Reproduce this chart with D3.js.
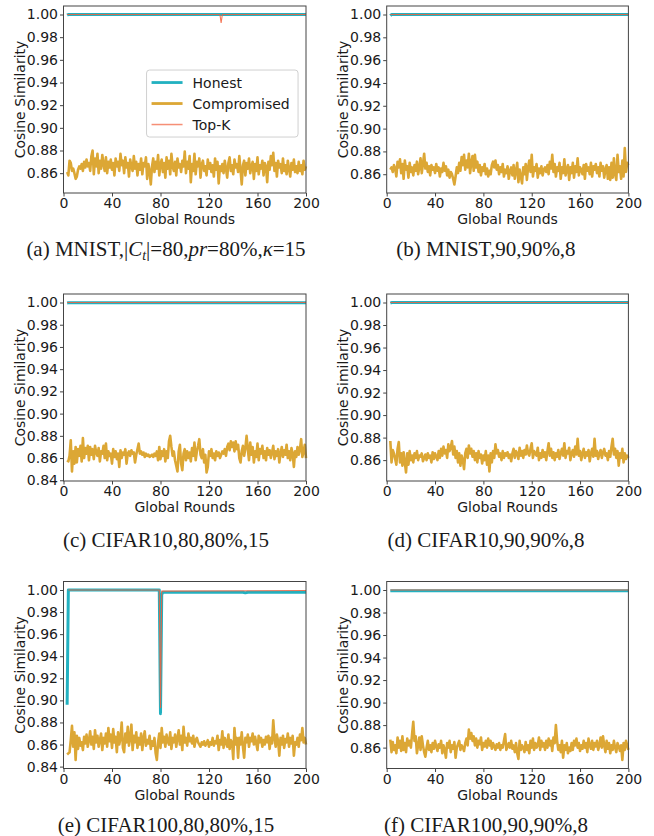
<!DOCTYPE html>
<html>
<head>
<meta charset="utf-8">
<script src="https://cdn.jsdelivr.net/npm/d3@7"></script>
<style>
body{margin:0;background:#fff}
svg{display:block}
.tick text{font-family:"DejaVu Sans";font-size:14px;fill:#1a1a1a}
.tick line, .domain{stroke:#444}
</style>
</head>
<body>
<svg id="chart" width="654" height="836"></svg>
<script>
// rounds 3..200
var rounds = d3.range(3, 201)
var xTicks = [0, 40, 80, 120, 160, 200]
var seriesNames = ['Honest', 'Compromised', 'Top-K']
var colors = {Honest: '#22b1c0', Compromised: '#dca735', 'Top-K': '#f2603c'}

// compromised cosine similarity, one value per round
var compA = [
  .861,.858,.871,.869,.862,.864,.860,.855,.857,.863,
  .866,.864,.868,.862,.870,.865,.872,.866,.869,.862,
  .875,.880,.859,.873,.866,.877,.860,.871,.864,.876,
  .868,.862,.874,.860,.870,.865,.872,.863,.869,.858,
  .873,.866,.870,.862,.877,.867,.871,.860,.874,.865,
  .869,.857,.872,.866,.862,.875,.864,.870,.858,.868,
  .863,.873,.859,.869,.866,.874,.855,.868,.862,.850,
  .866,.873,.861,.870,.864,.876,.858,.868,.872,.861,
  .869,.856,.874,.864,.871,.859,.877,.866,.862,.870,
  .858,.873,.865,.868,.861,.871,.866,.879,.860,.870,
  .864,.875,.852,.868,.862,.877,.859,.870,.866,.873,
  .856,.868,.871,.862,.866,.858,.872,.864,.869,.861,
  .867,.857,.873,.863,.870,.851,.866,.862,.868,.860,
  .871,.864,.856,.869,.874,.862,.867,.859,.872,.865,
  .868,.861,.875,.863,.850,.867,.871,.858,.869,.864,
  .873,.860,.866,.870,.855,.868,.862,.874,.859,.867,
  .864,.871,.858,.869,.866,.852,.870,.863,.875,.867,
  .878,.862,.869,.857,.871,.865,.868,.860,.873,.862,
  .867,.859,.871,.864,.857,.869,.863,.872,.861,.866,
  .860,.870,.862,.867,.859,.871,.863,.866]
var compB = [
  .864,.866,.862,.868,.865,.858,.871,.866,.873,.861,
  .869,.856,.872,.864,.867,.857,.870,.862,.866,.859,
  .868,.863,.871,.860,.866,.874,.861,.869,.878,.865,
  .870,.862,.867,.859,.868,.864,.866,.861,.869,.863,
  .866,.858,.865,.862,.870,.863,.867,.859,.864,.857,
  .862,.860,.856,.851,.858,.866,.861,.870,.863,.875,
  .868,.877,.864,.872,.866,.878,.861,.870,.876,.863,
  .877,.866,.871,.862,.868,.859,.866,.863,.869,.860,
  .865,.858,.863,.860,.868,.871,.866,.872,.864,.868,
  .860,.866,.862,.869,.858,.864,.861,.867,.856,.863,
  .866,.859,.868,.856,.863,.870,.853,.864,.858,.852,
  .866,.860,.869,.855,.866,.872,.862,.877,.858,.866,
  .863,.869,.857,.865,.861,.867,.859,.864,.866,.862,
  .868,.860,.871,.865,.877,.862,.869,.858,.866,.863,
  .870,.856,.866,.861,.873,.859,.864,.868,.855,.866,
  .861,.870,.857,.867,.862,.874,.859,.866,.864,.860,
  .868,.856,.869,.863,.866,.860,.870,.858,.867,.864,
  .869,.861,.866,.858,.870,.863,.867,.857,.864,.868,
  .856,.866,.855,.870,.857,.874,.860,.855,.877,.862,
  .867,.856,.872,.858,.883,.862,.870,.868]
var compC = [
  .858,.857,.862,.876,.848,.866,.855,.870,.856,.868,
  .862,.871,.857,.878,.860,.869,.864,.871,.858,.870,
  .863,.868,.859,.871,.865,.862,.869,.857,.866,.864,
  .871,.860,.873,.858,.866,.862,.864,.855,.868,.861,
  .866,.859,.864,.852,.867,.860,.865,.863,.868,.855,
  .864,.866,.862,.867,.864,.865,.856,.863,.868,.873,
  .864,.866,.863,.865,.861,.864,.862,.863,.861,.862,
  .863,.861,.864,.862,.866,.858,.870,.859,.866,.862,
  .868,.857,.866,.860,.875,.880,.870,.862,.866,.858,
  .853,.848,.866,.872,.855,.849,.864,.868,.858,.866,
  .860,.865,.857,.869,.862,.874,.858,.866,.871,.877,
  .863,.860,.868,.856,.863,.847,.852,.866,.862,.868,
  .860,.864,.858,.866,.862,.865,.860,.863,.866,.864,
  .868,.862,.870,.873,.867,.875,.870,.874,.866,.875,
  .868,.872,.860,.856,.866,.871,.862,.869,.880,.868,
  .858,.874,.863,.870,.856,.866,.861,.873,.858,.868,
  .864,.871,.860,.866,.858,.869,.863,.867,.860,.865,
  .871,.859,.866,.862,.868,.856,.864,.870,.861,.867,
  .863,.872,.860,.866,.858,.869,.864,.852,.866,.861,
  .870,.863,.868,.877,.861,.866,.872,.860]
var compD = [
  .877,.858,.869,.866,.861,.856,.870,.876,.858,.866,
  .855,.867,.858,.849,.866,.856,.868,.860,.864,.858,
  .866,.862,.868,.860,.864,.863,.866,.859,.862,.865,
  .860,.866,.862,.864,.858,.867,.861,.866,.863,.860,
  .868,.862,.870,.864,.872,.866,.869,.862,.874,.868,
  .871,.877,.865,.872,.862,.868,.858,.866,.855,.864,
  .860,.852,.866,.870,.862,.873,.866,.870,.863,.868,
  .860,.866,.858,.868,.862,.865,.857,.864,.860,.868,
  .856,.864,.850,.866,.858,.868,.862,.874,.866,.869,
  .863,.866,.860,.868,.862,.866,.864,.867,.862,.865,
  .859,.866,.870,.862,.868,.866,.861,.871,.864,.868,
  .862,.869,.865,.873,.866,.864,.870,.875,.862,.868,
  .866,.864,.871,.860,.866,.862,.869,.863,.867,.860,
  .868,.875,.864,.870,.862,.867,.860,.866,.863,.869,
  .861,.866,.870,.864,.875,.862,.868,.866,.871,.860,
  .866,.869,.863,.872,.865,.879,.864,.868,.860,.866,
  .870,.862,.867,.864,.869,.859,.866,.870,.863,.879,
  .864,.868,.861,.866,.869,.862,.867,.870,.864,.866,
  .860,.868,.863,.872,.879,.865,.870,.862,.868,.855,
  .866,.862,.870,.858,.866,.861,.864,.862]
var compE = [
  .851,.852,.853,.864,.877,.858,.871,.846,.868,.856,
  .866,.859,.862,.855,.867,.861,.869,.858,.864,.872,
  .860,.867,.856,.873,.862,.868,.858,.864,.870,.855,
  .866,.861,.870,.858,.875,.863,.869,.857,.874,.862,
  .867,.853,.871,.860,.866,.880,.857,.853,.870,.862,
  .876,.859,.866,.878,.855,.868,.862,.871,.857,.866,
  .860,.870,.855,.866,.872,.859,.864,.861,.868,.856,
  .863,.859,.866,.852,.846,.862,.870,.857,.875,.862,
  .867,.858,.869,.863,.860,.871,.856,.866,.862,.869,
  .858,.866,.873,.860,.868,.855,.876,.862,.866,.859,
  .870,.863,.866,.861,.868,.858,.864,.866,.862,.860,
  .858,.862,.860,.863,.859,.861,.864,.858,.862,.860,
  .866,.859,.863,.861,.868,.855,.864,.860,.872,.857,
  .866,.862,.858,.869,.856,.864,.862,.847,.875,.860,
  .866,.848,.866,.860,.871,.858,.848,.866,.862,.869,
  .858,.866,.863,.870,.860,.867,.861,.855,.868,.862,
  .866,.858,.864,.860,.867,.862,.868,.856,.866,.861,
  .882,.866,.858,.869,.863,.850,.866,.860,.868,.857,
  .865,.862,.870,.858,.866,.861,.868,.850,.862,.860,
  .866,.858,.869,.864,.875,.862,.866,.860]
var compF = [
  .867,.856,.865,.858,.862,.855,.869,.860,.866,.857,
  .870,.858,.864,.856,.868,.862,.866,.860,.872,.883,
  .866,.870,.855,.862,.869,.858,.870,.862,.856,.852,
  .860,.866,.858,.862,.856,.864,.859,.866,.861,.857,
  .863,.860,.866,.855,.862,.858,.851,.864,.860,.866,
  .856,.862,.859,.865,.851,.860,.863,.866,.858,.862,
  .860,.857,.864,.868,.862,.876,.868,.873,.866,.870,
  .862,.868,.860,.866,.863,.869,.858,.864,.861,.866,
  .860,.868,.862,.866,.859,.864,.861,.858,.863,.860,
  .864,.858,.862,.860,.866,.872,.858,.861,.864,.860,
  .866,.859,.862,.856,.864,.855,.850,.866,.858,.862,
  .860,.856,.865,.858,.862,.855,.866,.860,.868,.858,
  .864,.860,.862,.869,.858,.866,.861,.864,.858,.866,
  .860,.868,.862,.866,.857,.869,.864,.880,.866,.858,
  .862,.856,.866,.851,.862,.858,.864,.855,.860,.857,
  .864,.858,.866,.862,.868,.860,.864,.857,.862,.859,
  .866,.860,.864,.856,.868,.862,.859,.866,.858,.864,
  .861,.866,.858,.862,.869,.860,.870,.862,.856,.866,
  .859,.864,.855,.862,.858,.866,.860,.856,.864,.861,
  .857,.862,.849,.864,.858,.866,.862,.858]

// honest / top-k: [round, value] where the value changes
var honestA = [[3, .9994], [4, 1], [200, 1]]
var topkA = [[3, 1], [129, 1], [130, .9926], [131, 1], [200, 1]]
var honestB = [[3, .9990], [4, 1], [200, 1]]
var topkB = [[3, 1], [200, 1]]
var honestC = [[3, .9996], [4, .9998], [200, .9998]]
var topkC = [[3, 1], [200, 1]]
var honestD = [[3, .9995], [4, .9999], [200, .9999]]
var topkD = [[3, 1], [200, 1]]
var honestE = [[3, .896], [4, 1], [79, 1], [80, .888], [81, .996], [82, .998], [148, .998], [150, .9974], [152, .998], [200, .998]]
var topkE = [[4, 1], [79, 1], [80, .893], [81, .999], [200, .9995]]
var honestF = [[3, .9993], [200, .9993]]
var topkF = [[3, 1], [200, 1]]

var captions = [
  [['(a) MNIST,|', ''], ['C', 'i'], ['t', 's'], ['|=80,', ''], ['pr', 'i'], ['=80%,', ''], ['κ', 'i'], ['=15', '']],
  [['(b) MNIST,90,90%,8', '']],
  [['(c) CIFAR10,80,80%,15', '']],
  [['(d) CIFAR10,90,90%,8', '']],
  [['(e) CIFAR100,80,80%,15', '']],
  [['(f) CIFAR100,90,90%,8', '']]
]

var panels = [
  {comp: compA, honest: honestA, topk: topkA, legend: true},
  {comp: compB, honest: honestB, topk: topkB},
  {comp: compC, honest: honestC, topk: topkC},
  {comp: compD, honest: honestD, topk: topkD},
  {comp: compE, honest: honestE, topk: topkE},
  {comp: compF, honest: honestF, topk: topkF}
]

var colLeft = [63.5, 386.7], colW = [242.5, 241.7], colCap = [166, 486]
var rowTop = [6, 294, 581.5], rowH = 187, capY = [255.5, 546.5, 831.5]

var svg = d3.select('#chart')

panels.forEach((p, i) => {
  var col = i % 2, row = Math.floor(i / 2)
  var w = colW[col], h = rowH
  var g = svg.append('g').attr('transform', `translate(${colLeft[col]},${rowTop[row]})`)

  var compPts = p.comp.map((v, j) => [rounds[j], v])
  var all = compPts.concat(p.honest, p.topk).map(d => d[1])
  var lo = d3.min(all), hi = d3.max(all), pad = (hi - lo) * 0.05

  var x = d3.scaleLinear().domain([0, 200]).range([0, w])
  var y = d3.scaleLinear().domain([lo - pad, hi + pad]).range([h, 0])

  var yTicks = [.84, .86, .88, .90, .92, .94, .96, .98, 1.00].filter(t => t >= y.domain()[0] - 1e-9)

  g.append('g').attr('transform', `translate(0,${h})`)
    .call(d3.axisBottom(x).tickValues(xTicks).tickSize(3.5).tickPadding(2).tickFormat(d3.format('d')))
  g.append('g')
    .call(d3.axisLeft(y).tickValues(yTicks).tickSize(3.5).tickPadding(2).tickFormat(d3.format('.2f')))
  g.selectAll('.domain').remove()

  var line = d3.line().x(d => x(d[0])).y(d => y(d[1]))

  g.append('path').datum(p.honest).attr('d', line)
    .attr('fill', 'none').attr('stroke', colors.Honest).attr('stroke-width', 3).attr('stroke-linejoin', 'round')
  g.append('path').datum(compPts).attr('d', line)
    .attr('fill', 'none').attr('stroke', colors.Compromised).attr('stroke-width', 2.6).attr('stroke-linejoin', 'round')
  g.append('path').datum(p.topk).attr('d', line)
    .attr('fill', 'none').attr('stroke', colors['Top-K']).attr('stroke-width', 1.1).attr('stroke-opacity', .85)

  g.append('rect').attr('width', w).attr('height', h)
    .attr('fill', 'none').attr('stroke', '#444').attr('stroke-width', 1)

  g.append('text').attr('x', w / 2).attr('y', h + 31)
    .attr('text-anchor', 'middle').attr('font-family', 'DejaVu Sans').attr('font-size', 14).attr('fill', '#1a1a1a')
    .text('Global Rounds')
  g.append('text').attr('transform', `translate(-39,${h / 2}) rotate(-90)`)
    .attr('text-anchor', 'middle').attr('font-family', 'DejaVu Sans').attr('font-size', 14).attr('fill', '#1a1a1a')
    .text('Cosine Similarity')

  if (p.legend) {
    var lg = g.append('g').attr('transform', `translate(${x(68.5)},${y(.951)})`)
    lg.append('rect').attr('width', 151.5).attr('height', 67).attr('rx', 3)
      .attr('fill', '#fff').attr('fill-opacity', .8).attr('stroke', '#d0d0d0')
    seriesNames.forEach((name, k) => {
      var ly = 12.5 + k * 21
      lg.append('line').attr('x1', 5).attr('x2', 36).attr('y1', ly).attr('y2', ly)
        .attr('stroke', colors[name]).attr('stroke-width', name == 'Top-K' ? 1.5 : 2.8)
        .attr('stroke-opacity', name == 'Top-K' ? .7 : 1)
      lg.append('text').attr('x', 46).attr('y', ly + 5)
        .attr('font-family', 'DejaVu Sans').attr('font-size', 14).attr('fill', '#1a1a1a')
        .text(name)
    })
  }

  var cap = svg.append('text').attr('x', colCap[col]).attr('y', capY[row])
    .attr('text-anchor', 'middle').attr('font-family', 'Liberation Serif').attr('font-size', 21).attr('fill', '#1a1a1a')
  captions[i].forEach(([t, s]) => {
    var ts = cap.append('tspan').text(t)
    if (s == 'i') ts.attr('font-style', 'italic')
    if (s == 's') ts.attr('font-style', 'italic').attr('font-size', 14).attr('dy', 4)
    if (s == '' && captions[i].length > 1 && t[0] == '|') ts.attr('dy', -4)
  })
})
</script>
</body>
</html>
